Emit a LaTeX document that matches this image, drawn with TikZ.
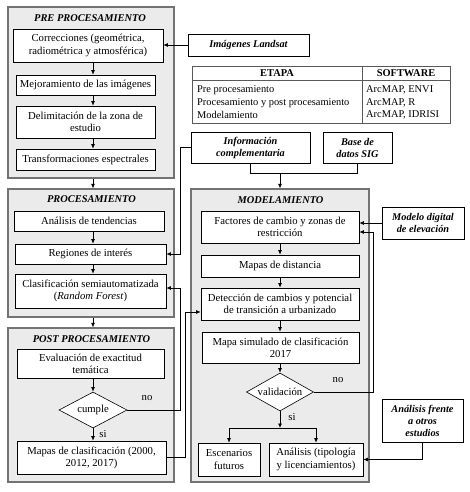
\documentclass[tikz,border=0pt]{standalone}
\usepackage{fontspec}
\setmainfont{Liberation Serif}
\usetikzlibrary{shapes.geometric,arrows.meta,calc,shadows}
\begin{document}
\begin{tikzpicture}[x=1pt,y=-1pt,
  fs/.style={font=\fontsize{10.7}{12.2}\selectfont},
  group/.style={draw=black!55, line width=1.1pt, fill=black!8, inner sep=0pt},
  box/.style={draw=black, line width=0.6pt, fill=white, align=center, inner sep=1pt, fs,
    drop shadow={shadow xshift=0.7pt, shadow yshift=-0.7pt, fill=black!50, opacity=0.6}},
  bibox/.style={box, font=\fontsize{10.3}{12}\selectfont\bfseries\itshape},
  dia/.style={diamond, draw=black, line width=0.6pt, fill=white, inner sep=0pt, aspect=1.9, fs},
  grouptitle/.style={font=\fontsize{10.4}{12}\selectfont\bfseries\itshape, inner sep=0pt},
  lbl/.style={fs, inner sep=0pt},
  tlbl/.style={font=\fontsize{10.4}{12}\selectfont, inner sep=0pt},
  tab/.style={draw=black!65, line width=0.8pt},
  arr/.style={-{Latex[length=4.5pt,width=4pt]}, line width=0.8pt},
  ln/.style={line width=0.8pt}
]
\fill[white] (0,0) rectangle (469,492);
\useasboundingbox (0,0) rectangle (469,492);

% groups
\node[group, minimum width=166pt, minimum height=171pt] (pre) at (91,92.5) {};
\node[group, minimum width=166pt, minimum height=128pt] (proc) at (91,253) {};
\node[group, minimum width=166pt, minimum height=154pt] (post) at (91,405) {};
\node[group, minimum width=178pt, minimum height=293pt] (model) at (280,335.5) {};

\node[grouptitle] (tpre) at (90,18) {PRE PROCESAMIENTO};
\node[grouptitle] (tproc) at (91.5,199) {PROCESAMIENTO};
\node[grouptitle] (tpost) at (91.5,339) {POST PROCESAMIENTO};
\node[grouptitle] (tmod) at (280.5,200) {MODELAMIENTO};

% pre procesamiento
\node[box, minimum width=150pt, minimum height=33pt] (corr) at (88,45.5) {Correcciones (geométrica,\\radiométrica y atmosférica)};
\node[box, minimum width=139pt, minimum height=20pt] (mejor) at (85.5,85) {Mejoramiento de las imágenes};
\node[box, minimum width=139pt, minimum height=32pt] (delim) at (85.5,122) {Delimitación de la zona de\\estudio};
\node[box, minimum width=139pt, minimum height=21pt] (transf) at (85.5,159.5) {Transformaciones espectrales};

% procesamiento
\node[box, minimum width=150pt, minimum height=20pt] (analt) at (89,221) {Análisis de tendencias};
\node[box, minimum width=151pt, minimum height=20pt] (regiones) at (90.5,254) {Regiones de interés};
\node[box, minimum width=151pt, minimum height=34pt] (clasif) at (90.5,291) {Clasificación semiautomatizada\\(\textit{Random Forest})};

% post procesamiento
\node[box, minimum width=147pt, minimum height=29pt] (eval) at (90.5,363.5) {Evaluación de exactitud\\temática};
\node[dia, minimum width=68pt, minimum height=36pt] (cumple) at (93,410) {cumple};
\node[box, minimum width=149pt, minimum height=33pt] (mapascl) at (91.5,457.5) {Mapas de clasificación (2000,\\2012, 2017)};

% inputs
\node[bibox, minimum width=121pt, minimum height=22pt] (landsat) at (248.5,45) {Imágenes Landsat};
\node[bibox, minimum width=119pt, minimum height=31pt] (info) at (250.5,147.5) {Información\\complementaria};
\node[bibox, minimum width=69pt, minimum height=31pt] (base) at (357.5,147.5) {Base de\\datos SIG};
\node[bibox, minimum width=82pt, minimum height=32pt] (modelo) at (423,223) {Modelo digital\\de elevación};
\node[bibox, minimum width=81pt, minimum height=43pt] (analfr) at (422.5,420.5) {Análisis frente\\a otros\\estudios};

% modelamiento
\node[box, minimum width=158pt, minimum height=32pt] (factores) at (280,227) {Factores de cambio y zonas de\\restricción};
\node[box, minimum width=158pt, minimum height=22pt] (mapasdist) at (280,266) {Mapas de distancia};
\node[box, minimum width=158pt, minimum height=32pt] (deteccion) at (280,304) {Detección de cambios y potencial\\de transición a urbanizado};
\node[box, minimum width=157pt, minimum height=31pt] (mapasim) at (280.5,347.5) {Mapa simulado de clasificación\\2017};
\node[dia, minimum width=67pt, minimum height=38pt] (valid) at (280,392) {validación};
\node[box, minimum width=62pt, minimum height=33pt] (escen) at (229,459.5) {Escenarios\\futuros};
\node[box, minimum width=94pt, minimum height=33pt] (analisis) at (316,459.5) {Análisis (tipología\\y licenciamientos)};

% table
\fill[white] (192,66) rectangle (450,123);
\draw[tab] (192,66) rectangle (450,123);
\draw[tab] (192,80) -- (450,80);
\draw[tab] (362,66) -- (362,123);
\node[tlbl, font=\fontsize{10.4}{12}\selectfont\bfseries] (hetapa) at (277,73.5) {ETAPA};
\node[tlbl, font=\fontsize{10.4}{12}\selectfont\bfseries] (hsoft) at (406,73.5) {SOFTWARE};
\node[tlbl, anchor=west] (r1a) at (197,90) {Pre procesamiento};
\node[tlbl, anchor=west] (r2a) at (197,102.7) {Procesamiento y post procesamiento};
\node[tlbl, anchor=west] (r3a) at (197,115.3) {Modelamiento};
\node[tlbl, anchor=west] (r1b) at (366,90) {ArcMAP, ENVI};
\node[tlbl, anchor=west] (r2b) at (366,102.7) {ArcMAP, R};
\node[tlbl, anchor=west] (r3b) at (366,115.3) {ArcMAP, IDRISI};

% helper coordinates
\coordinate (xa) at (93,0);
\coordinate (xm) at (280,0);
\coordinate (xl1) at (180,0);
\coordinate (xl2) at (185,0);
\coordinate (xr) at (373,0);
\coordinate (yb) at (0,173);
\coordinate (yc) at (0,288);
\coordinate (yd) at (0,312);
\coordinate (yf) at (0,232);
\coordinate (br) at (280,428);

% connectors
\draw[arr] (landsat.west) -- (landsat.west -| corr.east);
\foreach \a/\b in {corr/mejor, mejor/delim, delim/transf, pre/proc, analt/regiones, regiones/clasif, proc/post, eval/cumple, cumple/mapascl}
  \draw[arr] (\a.south -| xa) -- (\b.north -| xa);
\foreach \a/\b in {factores/mapasdist, mapasdist/deteccion, deteccion/mapasim, mapasim/valid}
  \draw[arr] (\a.south -| xm) -- (\b.north -| xm);

\draw[arr] (info.west) -- (info.west -| xl1) -- (xl1 |- regiones.east) -- (regiones.east);
\draw[arr] (cumple.east) -- (cumple.east -| xl1) -- (xl1 |- yc) -- (clasif.east |- yc);
\node[lbl] (no1) at (147,398) {no};
\node[lbl] (si1) at (103,434) {si};
\draw[arr] (mapascl.east) -- (mapascl.east -| xl2) -- (xl2 |- yd) -- (deteccion.west |- yd);

\draw[ln] (info.south) -- (info.south |- yb) -- (base.south |- yb) -- (base.south);
\draw[arr] (xm |- yb) -- (model.north -| xm);

\draw[arr] (modelo.west) -- (modelo.west -| factores.east);
\draw[arr] (valid.east) -- (valid.east -| xr) -- (xr |- yf) -- (factores.east |- yf);
\node[lbl] (no2) at (338,380) {no};

\draw[arr] (valid.south) -- (br);
\node[lbl] (si2) at (292,417) {si};
\draw[arr] (br) -| (escen.north);
\draw[arr] (br) -| (analisis.north);
\draw[arr] (analfr.south) |- (analisis.east);
\end{tikzpicture}
\end{document}
